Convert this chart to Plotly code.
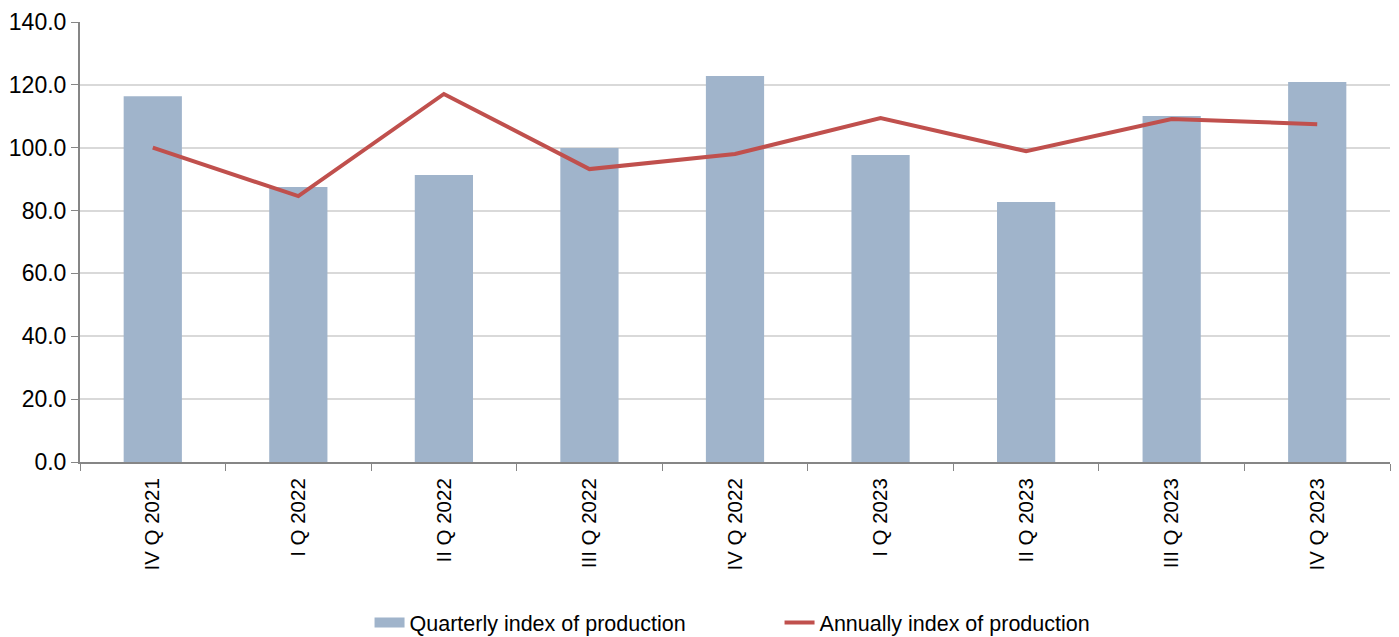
import plotly.graph_objects as go

categories = ["IV Q 2021", "I Q 2022", "II Q 2022", "III Q 2022", "IV Q 2022",
              "I Q 2023", "II Q 2023", "III Q 2023", "IV Q 2023"]
quarterly = [116.4, 87.5, 91.3, 99.9, 122.8, 97.7, 82.7, 110.1, 120.9]
annually = [100.0, 84.6, 117.1, 93.2, 98.0, 109.4, 98.9, 109.1, 107.5]
y_ticks = [0, 20, 40, 60, 80, 100, 120, 140]

BAR_COLOR = "#A0B4CB"
LINE_COLOR = "#C0504D"

fig = go.Figure()
fig.add_trace(go.Bar(x=categories, y=quarterly, name="Quarterly index of production",
                     marker=dict(color=BAR_COLOR, line=dict(width=0)), width=0.4,
                     showlegend=False))
# legend entry drawn as a wide swatch for the bar series
fig.add_trace(go.Scatter(x=[None], y=[None], name="Quarterly index of production",
                         mode="lines", line=dict(color=BAR_COLOR, width=14),
                         hoverinfo="skip"))
fig.add_trace(go.Scatter(x=categories, y=annually, name="Annually index of production",
                         mode="lines", line=dict(color=LINE_COLOR, width=4)))

fig.update_layout(
    width=1399, height=637,
    margin=dict(l=72, r=17, t=14, b=183, autoexpand=False),
    plot_bgcolor="white", paper_bgcolor="white",
    font=dict(family="Liberation Sans, Arial", size=21, color="black"),
    showlegend=True,
    legend=dict(orientation="h", x=0.534, xanchor="center", y=-0.318, yanchor="top",
                font=dict(size=21.5), entrywidth=365, entrywidthmode="pixels"),
    bargap=0.6,
)
fig.update_xaxes(tickangle=-90, showline=True, linecolor="#868686", linewidth=2,
                 ticks="outside", tickson="boundaries", ticklen=7, tickcolor="#868686",
                 showgrid=False, automargin=False, tickfont=dict(size=20.5),
                 ticklabelstandoff=6)
fig.update_yaxes(range=[0, 140], tickvals=y_ticks, tickformat=".1f",
                 showline=True, linecolor="#868686", linewidth=2,
                 ticks="outside", ticklen=7, tickcolor="#868686",
                 showgrid=True, gridcolor="#D9D9D9", gridwidth=1.5, zeroline=False,
                 automargin=False, tickfont=dict(size=23))

fig.write_html("out.html")
